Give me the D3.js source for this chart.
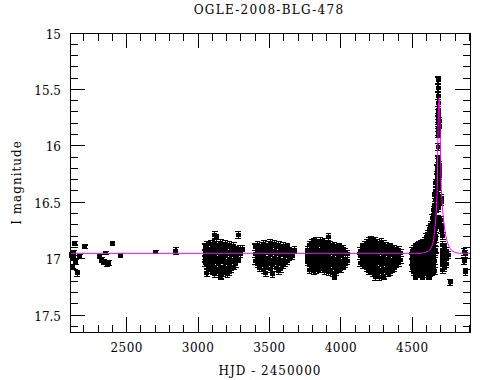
<!DOCTYPE html>
<html><head><meta charset="utf-8">
<script src="https://cdn.jsdelivr.net/npm/d3@7"></script>
<style>
html,body{margin:0;padding:0;background:#fff;}
svg text{font-family:"DejaVu Serif",serif;fill:#000;}
</style></head>
<body>
<svg id="c" width="490" height="380"></svg>
<script>
// ---------- data ----------
const title = "OGLE-2008-BLG-478";
const xLabel = "HJD - 2450000";
const yLabel = "I magnitude";
const xTickLabels = [2500, 3000, 3500, 4000, 4500];
const yTickLabels = [15, 15.5, 16, 16.5, 17, 17.5];

// sparse early points [HJD, mag, err]
const earlyPoints = [
  [2117,16.97,0.02],[2122,17.07,0.02],[2126,17.00,0.02],[2130,16.95,0.02],[2138,16.864,0.015],
  [2145,17.03,0.02],[2154,17.13,0.025],[2173,16.98,0.02],[2208,16.894,0.015],
  [2313,16.98,0.02],[2325,17.01,0.02],[2341,17.03,0.02],[2355,16.95,0.015],
  [2364,17.05,0.02],[2376,17.04,0.02],[2402,16.864,0.015],[2458,16.97,0.015],
  [2705,16.94,0.015],[2845,16.93,0.03]
];

// dense seasons: [HJD, [mags...]]
const season2004 = [
  [3050,[16.90,16.95,17.00,17.04]],[3062,[16.88,16.93,16.98,17.06,17.13]],
  [3075,[16.91,16.96,17.02,17.08]],[3090,[16.87,16.94,16.99,17.05,17.10]],
  [3105,[16.89,16.97,17.03,17.11]],[3118,[16.79,16.86,16.92,16.98,17.07,17.14]],
  [3130,[16.82,16.90,16.95,17.01,17.09]],[3145,[16.88,16.93,16.99,17.05,17.12]],
  [3160,[16.86,16.91,16.97,17.03,17.10,17.15]],[3175,[16.89,16.95,17.00,17.07,17.13]],
  [3190,[16.87,16.92,16.98,17.04,17.11]],[3205,[16.90,16.96,17.02,17.08,17.14]],
  [3220,[16.88,16.94,17.00,17.06,17.12]],[3235,[16.91,16.97,17.03,17.09]],
  [3250,[16.89,16.95,17.01,17.07]],[3265,[16.92,16.98,17.05]],
  [3280,[16.79,16.93,17.00]],[3295,[16.91,16.96]],[3308,[16.91]]
];
const season2005 = [
  [3400,[16.90,16.96,17.02]],[3415,[16.88,16.93,16.99,17.05]],
  [3430,[16.91,16.97,17.03,17.08]],[3445,[16.89,16.94,17.00,17.06]],
  [3460,[16.87,16.92,16.98,17.04,17.10]],[3475,[16.90,16.95,17.01,17.07,17.13]],
  [3490,[16.88,16.93,16.99,17.05]],[3505,[16.86,16.91,16.97,17.03,17.09]],
  [3520,[16.89,16.95,17.01,17.06,17.14]],[3535,[16.87,16.93,16.99,17.04]],
  [3550,[16.90,16.96,17.02,17.08]],[3565,[16.88,16.94,17.00,17.05,17.11]],
  [3580,[16.91,16.97,17.03,17.09]],[3595,[16.89,16.95,17.01,17.06]],
  [3610,[16.92,16.98,17.04]],[3625,[16.90,16.96,17.02]],
  [3640,[16.93,16.99]],[3660,[16.94,16.98]],[3675,[16.92]]
];
const season2006 = [
  [3765,[16.92,16.98,17.03]],[3780,[16.88,16.94,17.00,17.06,17.10]],
  [3795,[16.86,16.91,16.97,17.02,17.08]],[3810,[16.85,16.90,16.95,17.01,17.07,17.11]],
  [3825,[16.84,16.89,16.95,17.00,17.05,17.10]],[3840,[16.86,16.92,16.97,17.03,17.08]],
  [3855,[16.84,16.88,16.94,16.99,17.04,17.09]],[3870,[16.86,16.91,16.96,17.02,17.07]],
  [3885,[16.85,16.90,16.95,17.01,17.06,17.11]],[3900,[16.87,16.92,16.98,17.03,17.08]],
  [3912,[16.81,16.89,16.94,17.00,17.05,17.12]],[3925,[16.88,16.93,16.99,17.04,17.10]],
  [3940,[16.90,16.95,17.01,17.06,17.13]],[3955,[16.89,16.94,17.00,17.05,17.15]],
  [3970,[16.91,16.96,17.02,17.07,17.12]],[3985,[16.90,16.95,17.01,17.08]],
  [4000,[16.92,16.98,17.04,17.09]],[4015,[16.91,16.96,17.02,17.07]],
  [4030,[16.94,17.00,17.05]],[4045,[16.96,17.02]]
];
const season2007 = [
  [4135,[16.93,16.98,17.04]],[4150,[16.90,16.95,17.00,17.06]],
  [4165,[16.88,16.93,16.99,17.05]],[4180,[16.86,16.91,16.97,17.02,17.08]],
  [4195,[16.84,16.89,16.95,17.00,17.06,17.11]],[4210,[16.83,16.88,16.93,16.99,17.04,17.10]],
  [4225,[16.85,16.90,16.96,17.01,17.07,17.13]],[4240,[16.84,16.89,16.94,17.00,17.05,17.11,17.16]],
  [4255,[16.86,16.91,16.97,17.02,17.08,17.14]],[4270,[16.88,16.93,16.99,17.04,17.10,17.16]],
  [4285,[16.85,16.90,16.95,17.01,17.06,17.12]],[4300,[16.87,16.92,16.98,17.03,17.09,17.15]],
  [4315,[16.89,16.94,17.00,17.05,17.11]],[4330,[16.91,16.96,17.02,17.07,17.13]],
  [4345,[16.90,16.95,17.01,17.06,17.12]],[4360,[16.92,16.97,17.03,17.09]],
  [4375,[16.91,16.96,17.02,17.08]],[4390,[16.93,16.99,17.05]],
  [4405,[16.92,16.98,17.04]],[4420,[16.95,17.01]]
];
const season2008 = [
  [4498,[16.93,16.98,17.03,17.08]],[4510,[16.91,16.96,17.02,17.07,17.12]],
  [4522,[16.90,16.95,17.00,17.05,17.11,17.15]],[4535,[16.89,16.94,16.99,17.04,17.09,17.14]],
  [4548,[16.88,16.93,16.98,17.03,17.08,17.13]],[4560,[16.87,16.92,16.97,17.02,17.07,17.12]],
  [4572,[16.86,16.90,16.95,17.01,17.06,17.11,17.15]],[4585,[16.84,16.89,16.94,16.99,17.04,17.10]],
  [4597,[16.81,16.86,16.92,16.97,17.03,17.08,17.14]],[4608,[16.78,16.83,16.89,16.95,17.00,17.06,17.12]],
  [4618,[16.74,16.80,16.86,16.92,16.98,17.04,17.10,17.15]],[4628,[16.70,16.76,16.82,16.88,16.94,17.00,17.07,17.13]],
  [4638,[16.64,16.70,16.77,16.84,16.91,16.98,17.05,17.12]],[4648,[16.57,16.63,16.71,16.79,16.87,16.95,17.03,17.10]],
  [4657,[16.44,16.52,16.60,16.68,16.76,16.85,16.94,17.02,17.11]],[4665,[16.33,16.40,16.48,16.56,16.65,16.74,16.83,16.92]],
  [4673,[16.20,16.28,16.36,16.45]],
  [4680,[15.42,15.49,15.56,15.62,15.68,15.71,15.76,15.80,15.84,15.88,15.90,16.01,16.12,16.14,16.18,16.21,16.25,16.29,16.33,16.38,16.52,16.55,16.65,16.70]],
  [4690,[15.78,15.82,16.17,16.22,16.27,16.47]],
  [4703,[16.46,16.50,16.66,16.70,16.75]],[4713,[16.80,16.88,16.92,16.97,17.02,17.06,17.10]],
  [4724,[16.90,16.95,17.00,17.04,17.08]],[4738,[16.93,16.99,17.05]],[4752,[16.97]],
  [4862,[16.94,17.02]],[4872,[16.96,17.12]]
];
const season2008Extra = [[4764,17.21,0.025]];
const seasonErr = 0.03;

// PSPL model curve
const modelHJD = [2103,4560,4589,4610,4624,4640,4650,4659,4666,4671,4675,4679,4683,4687,4691,4695,4699,4703,4708,4717,4729,4740,4750,4765,4778,4800,4830,4904];
const modelMag = [16.953,16.953,16.945,16.935,16.922,16.88,16.83,16.72,16.62,16.52,16.35,15.95,15.66,15.58,15.64,15.85,16.15,16.38,16.50,16.64,16.76,16.83,16.87,16.91,16.93,16.945,16.953,16.953];

// ---------- chart ----------
const svg = d3.select("#c");
const x = d3.scaleLinear().domain([2103, 4904]).range([70, 470]);
const y = d3.scaleLinear().domain([15, 17.65]).range([33, 332]);

// flatten points
const pts = earlyPoints.map(d => ({t:d[0], m:d[1], e:d[2]}));
[season2004, season2005, season2006, season2007, season2008].forEach(s =>
  s.forEach(([t, ms]) => ms.forEach(m => pts.push({t, m, e:seasonErr}))));
season2008Extra.forEach(d => pts.push({t:d[0], m:d[1], e:d[2]}));

const gp = svg.append("g");
gp.selectAll("path").data(pts).join("path")
  .attr("d", d => {
    const cx = x(d.t), y1 = y(d.m - d.e), y2 = y(d.m + d.e);
    return `M${cx},${y1}V${y2}M${cx-2.8},${y1}H${cx+2.8}M${cx-2.8},${y2}H${cx+2.8}`;
  })
  .attr("stroke", "#000").attr("stroke-width", 1.1).attr("fill", "none")
  .attr("shape-rendering", "crispEdges");
gp.selectAll("rect").data(pts).join("rect")
  .attr("x", d => x(d.t) - 2.5).attr("y", d => y(d.m) - 2)
  .attr("width", 5).attr("height", 4).attr("fill", "#000")
  .attr("shape-rendering", "crispEdges");

// model
const model = modelHJD.map((t, i) => [t, modelMag[i]]);
svg.append("path").datum(model)
  .attr("d", d3.line().x(d => x(d[0])).y(d => y(d[1])))
  .attr("fill", "none").attr("stroke", "#ff00ff").attr("stroke-width", 1);

// frame
svg.append("rect").attr("x", 70).attr("y", 33).attr("width", 400).attr("height", 299)
  .attr("fill", "none").attr("stroke", "#000").attr("stroke-width", 1)
  .attr("shape-rendering", "crispEdges");

// ticks
const gt = svg.append("g").attr("stroke", "#000").attr("stroke-width", 1).attr("shape-rendering", "crispEdges");
const xMinor = d3.range(2200, 4901, 100);
xMinor.forEach(t => {
  const L = (t % 500 === 0) ? 15 : 7.5;
  const px = x(t);
  gt.append("line").attr("x1", px).attr("x2", px).attr("y1", 332).attr("y2", 332 - L);
  gt.append("line").attr("x1", px).attr("x2", px).attr("y1", 33).attr("y2", 33 + L);
});
const yMinor = d3.range(150, 177).map(v => v / 10);
yMinor.forEach(v => {
  const major = Math.abs(v * 2 - Math.round(v * 2)) < 1e-6;
  const L = major ? 15 : 7.5;
  const py = y(v);
  gt.append("line").attr("x1", 70).attr("x2", 70 + L).attr("y1", py).attr("y2", py);
  gt.append("line").attr("x1", 470).attr("x2", 470 - L).attr("y1", py).attr("y2", py);
});

// tick labels
svg.append("g").selectAll("text").data(xTickLabels).join("text")
  .attr("x", d => x(d)).attr("y", 352).attr("text-anchor", "middle")
  .attr("font-size", 12).attr("letter-spacing", "0.5px").text(d => d);
svg.append("g").selectAll("text").data(yTickLabels).join("text")
  .attr("x", 61).attr("y", d => y(d) + 5.5).attr("text-anchor", "end")
  .attr("font-size", 12).text(d => d);

// titles
svg.append("text").attr("x", 269).attr("y", 14).attr("text-anchor", "middle")
  .attr("font-size", 12).attr("letter-spacing", "1.3px").text(title);
svg.append("text").attr("x", 270).attr("y", 375).attr("text-anchor", "middle")
  .attr("font-size", 12).attr("letter-spacing", "1px").text(xLabel);
svg.append("text").attr("transform", "translate(21,182.5) rotate(-90)")
  .attr("text-anchor", "middle").attr("font-size", 12).attr("letter-spacing", "1px").text(yLabel);
</script>
</body></html>
